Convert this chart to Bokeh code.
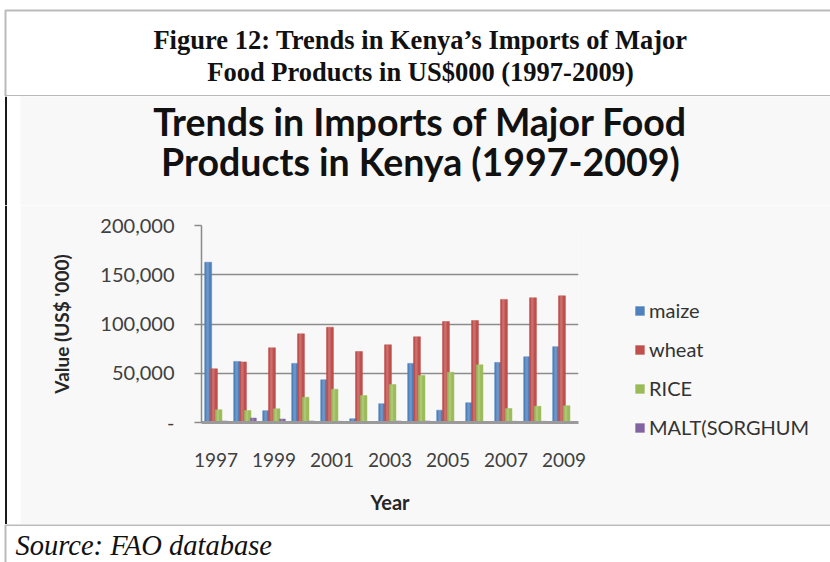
from bokeh.plotting import figure
from bokeh.layouts import column, row
from bokeh.models import (ColumnDataSource, Range1d, Label, BoxAnnotation,
                          Legend, LegendItem, FixedTicker, Span)
from bokeh.transform import dodge
from bokeh.embed import file_html
from bokeh.resources import INLINE

# ---------------- data ----------------
years = [1997, 1998, 1999, 2000, 2001, 2002, 2003,
         2004, 2005, 2006, 2007, 2008, 2009]
maize = [162700, 62000, 12000, 60000, 43300, 3800, 19000,
         60000, 12500, 20000, 61000, 66700, 77000]
wheat = [54500, 61500, 75800, 90000, 96700, 72000, 78900,
         87000, 102500, 103500, 125000, 126600, 128600]
rice = [12900, 12200, 13900, 25700, 33800, 27400, 38600,
        47700, 51000, 58600, 14200, 16500, 17000]
malt = [1500, 4500, 3500, 1500, 1200, 1000, 1500,
        1500, 1000, 1000, 1200, 1200, 1000]
series_names = ["maize", "wheat", "RICE", "MALT(SORGHUM"]
x_ticks = [1997, 1999, 2001, 2003, 2005, 2007, 2009]
x_tick_labels = ["1997", "1999", "2001", "2003", "2005", "2007", "2009"]
y_ticks = [0, 50000, 100000, 150000, 200000]
y_tick_labels = ["-", "50,000", "100,000", "150,000", "200,000"]

header_lines = ["Figure 12: Trends in Kenya\u2019s Imports of Major",
                "Food Products in US$000 (1997-2009)"]
title_lines = ["Trends in Imports of Major Food",
               "Products in Kenya (1997-2009)"]
source_text = "Source: FAO database"

colors = ["#4F81BD", "#C0504D", "#9BBB59", "#8064A2"]
offsets = [-0.27, -0.07, 0.09, 0.29]
widths = [0.24, 0.24, 0.23, 0.2]
BG = "#f8f8f8"
LINE = "#1a1a1a"


def blank(w, h, x0, x1, y0, y1, fill="white"):
    f = figure(width=w, height=h, x_range=Range1d(x0, x1), y_range=Range1d(y1, y0),
               output_backend="svg", toolbar_location=None,
               min_border=0, min_border_left=0, min_border_right=0,
               min_border_top=0, min_border_bottom=0)
    f.axis.visible = False
    f.grid.visible = False
    f.outline_line_color = None
    f.background_fill_color = fill
    f.border_fill_color = fill
    return f


def left_strip(y0, y1):
    s = blank(20, y1 - y0, 0, 20, y0, y1)
    s.add_layout(Span(location=5.5, dimension="height", line_color=LINE, line_width=2))
    return s


# ---------------- header (canvas y 0..96) ----------------
header = blank(830, 96, 0, 830, 0, 96)
header.add_layout(BoxAnnotation(left=5, right=845, top=10, bottom=95.5, fill_alpha=0,
                                line_color=LINE, line_width=2))
for txt, yy in zip(header_lines, [39, 71]):
    header.add_layout(Label(x=420, y=yy, text=txt, text_align="center",
                            text_baseline="middle", text_font="Liberation Serif",
                            text_font_style="bold", text_font_size="26.5px",
                            text_color="#111111"))

# ---------------- chart title block (canvas x 20..830, y 96..205) ----------------
tfig = blank(810, 109, 20, 830, 96, 205, fill=BG)
for txt, yy in zip(title_lines, [121, 161]):
    tfig.add_layout(Label(x=420, y=yy, text=txt, text_align="center",
                          text_baseline="middle", text_font="Lato",
                          text_font_style="bold", text_font_size="37.5px",
                          text_color="#111111"))

# ---------------- chart (canvas x 20..830, y 205..524) ----------------
src = ColumnDataSource(dict(year=years, maize=maize, wheat=wheat, rice=rice, malt=malt))
cols = ["maize", "wheat", "rice", "malt"]

p = figure(frame_width=377, frame_height=197,
           x_range=Range1d(years[0] - 0.5, years[-1] + 0.5), y_range=Range1d(0, 200000),
           output_backend="svg", toolbar_location=None,
           min_border_left=181, min_border_right=252,
           min_border_top=20, min_border_bottom=102)
p.border_fill_color = BG
p.background_fill_color = BG
p.outline_line_color = None

renderers = []
for c, col, off, w in zip(cols, colors, offsets, widths):
    r = p.vbar(x=dodge("year", off), top=c, width=w, source=src,
               fill_color=col, line_color=col, line_width=0.5)
    p.vbar(x=dodge("year", off - 0.02), top=c, width=w * 0.35, source=src,
           fill_color="white", fill_alpha=0.18, line_color=None)
    renderers.append(r)

p.yaxis.ticker = FixedTicker(ticks=y_ticks)
p.yaxis.major_label_overrides = {t: l for t, l in zip(y_ticks, y_tick_labels)}
p.yaxis.major_label_text_font = "Lato"
p.yaxis.major_label_text_font_size = "20px"
p.yaxis.major_label_text_color = "#404040"
p.yaxis.major_tick_out = 7
p.yaxis.major_tick_in = 0
p.yaxis.minor_tick_line_color = None
p.yaxis.major_tick_line_color = "#8a8a8a"
p.yaxis.major_tick_line_width = 1.5
p.yaxis.axis_line_color = "#8a8a8a"
p.yaxis.axis_line_width = 1.5
p.yaxis.major_label_standoff = 20
p.yaxis.axis_label = "Value (US$ '000)"
p.yaxis.axis_label_text_font = "Lato"
p.yaxis.axis_label_text_font_style = "bold"
p.yaxis.axis_label_text_font_size = "19px"
p.yaxis.axis_label_text_color = "#262626"
p.yaxis.axis_label_standoff = 24

p.xaxis.ticker = FixedTicker(ticks=x_ticks)
p.xaxis.major_label_overrides = {t: l for t, l in zip(x_ticks, x_tick_labels)}
p.xaxis.major_label_text_font = "Lato"
p.xaxis.major_label_text_font_size = "19px"
p.xaxis.major_label_text_color = "#404040"
p.xaxis.major_tick_line_color = None
p.xaxis.minor_tick_line_color = None
p.xaxis.major_tick_out = 0
p.xaxis.major_tick_in = 0
p.xaxis.major_label_standoff = 30
p.xaxis.axis_line_color = "#9a9a9a"
p.xaxis.axis_line_width = 3
p.xaxis.axis_label = "Year"
p.xaxis.axis_label_text_font = "Lato"
p.xaxis.axis_label_text_font_style = "bold"
p.xaxis.axis_label_text_font_size = "20px"
p.xaxis.axis_label_text_color = "#262626"
p.xaxis.axis_label_standoff = 20

p.xgrid.grid_line_color = None
p.ygrid.grid_line_color = "#8c8c8c"
p.ygrid.grid_line_width = 1.5

legend = Legend(items=[LegendItem(label=n, renderers=[r]) for n, r in zip(series_names, renderers)],
                location=(56, -17), orientation="vertical",
                label_text_font="Lato", label_text_font_size="20px", label_text_color="#333333",
                glyph_width=11, glyph_height=11, label_standoff=4, spacing=15,
                padding=0, margin=0, border_line_color=None, background_fill_alpha=0)
p.add_layout(legend, "right")

# ---------------- source (canvas y 524..562) ----------------
sfig = blank(830, 38, 0, 830, 524, 562)
sfig.add_layout(BoxAnnotation(left=5, right=845, top=524.5, bottom=600, fill_alpha=0,
                              line_color=LINE, line_width=2))
sfig.add_layout(Label(x=15, y=545, text=source_text, text_align="left",
                      text_baseline="middle", text_font="Liberation Serif",
                      text_font_style="italic", text_font_size="28.5px",
                      text_color="#111111"))

layout = column(header,
                row(left_strip(96, 205), column(tfig, spacing=0), spacing=0),
                row(left_strip(205, 524), column(p, spacing=0), spacing=0),
                sfig, spacing=0)
open("out.html", "w").write(file_html(layout, INLINE))
